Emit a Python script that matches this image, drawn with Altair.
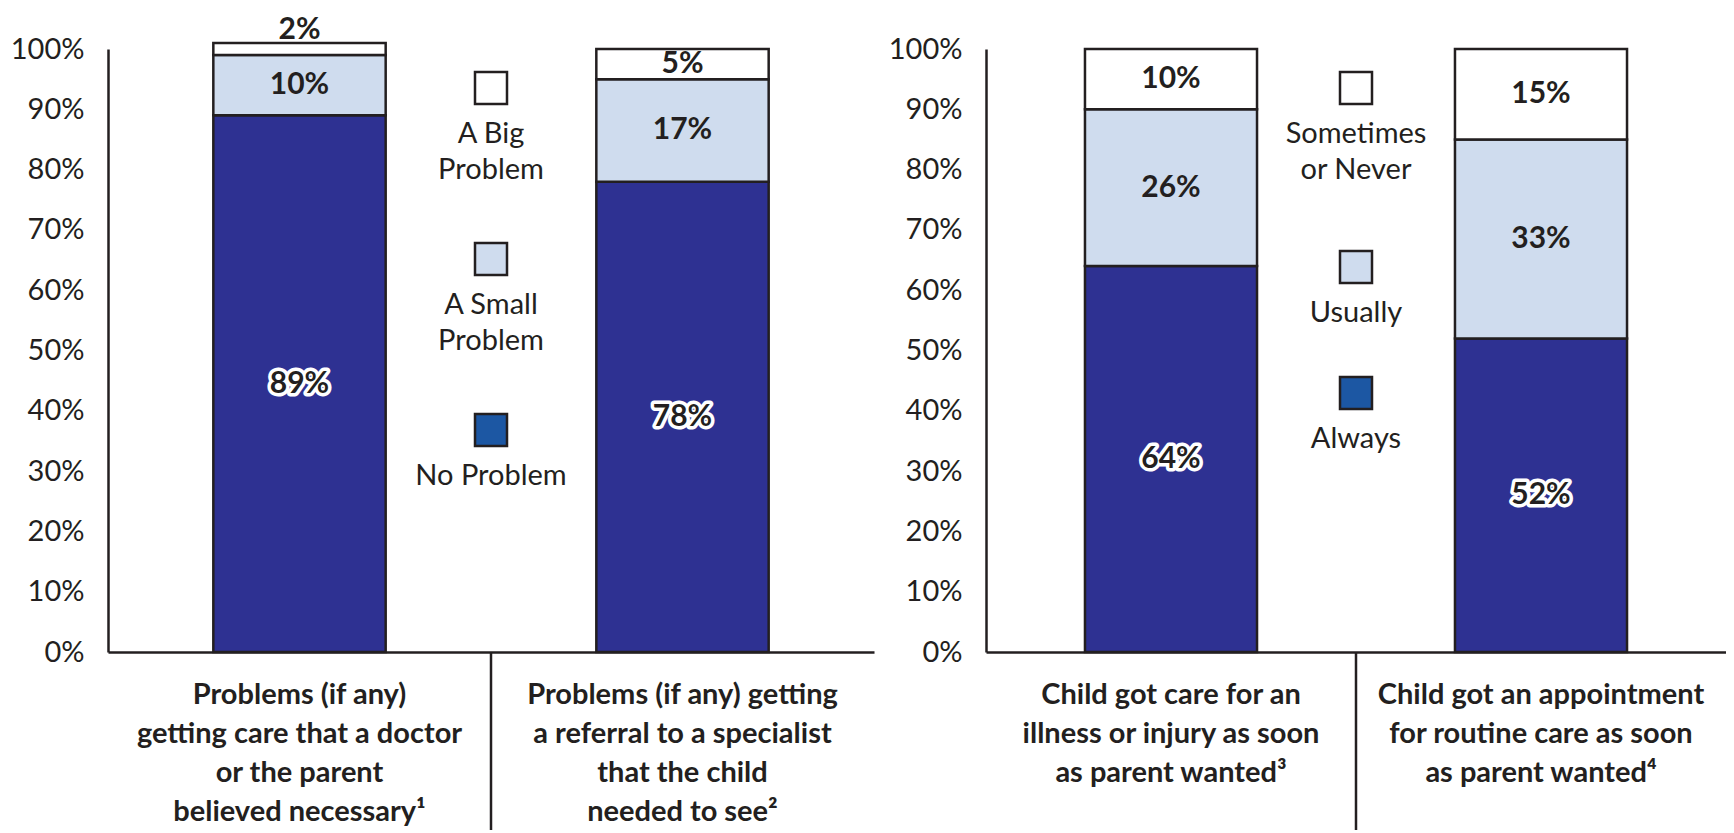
import altair as alt
import pandas as pd

# ---------------- data ----------------
LEFT_CATEGORIES = [
    ["Problems (if any)", "getting care that a doctor", "or the parent", "believed necessary¹"],
    ["Problems (if any) getting", "a referral to a specialist", "that the child", "needed to see²"],
]
LEFT_SERIES = ["No Problem", "A Small Problem", "A Big Problem"]
LEFT_NO_PROBLEM = [89, 78]
LEFT_SMALL_PROBLEM = [10, 17]
LEFT_BIG_PROBLEM = [2, 5]
LEFT_LEGEND_LINES = [["A Big", "Problem"], ["A Small", "Problem"], ["No Problem"]]

RIGHT_CATEGORIES = [
    ["Child got care for an", "illness or injury as soon", "as parent wanted³"],
    ["Child got an appointment", "for routine care as soon", "as parent wanted⁴"],
]
RIGHT_SERIES = ["Always", "Usually", "Sometimes or Never"]
RIGHT_ALWAYS = [64, 52]
RIGHT_USUALLY = [26, 33]
RIGHT_SOMETIMES = [10, 15]
RIGHT_LEGEND_LINES = [["Sometimes", "or Never"], ["Usually"], ["Always"]]

Y_TICKS = [0, 10, 20, 30, 40, 50, 60, 70, 80, 90, 100]

# ---------------- style ----------------
FONT = "Lato"
DARK = "#231f20"
NAVY = "#2e3192"
SPECKLE = "#cfdcee"
LEGEND_BLUE = "#1c57a3"
WHITE = "#ffffff"
PLOT_H = 603


def build_table(cats, series, cols):
    rows = []
    for i, lines in enumerate(cats):
        cat = "|".join(lines)
        base = 0
        for k, (s, col) in enumerate(zip(series, cols)):
            v = col[i]
            rows.append(dict(cat=cat, series=s, order=k, value=v,
                             y0=base, y1=base + v, mid=base + v / 2,
                             label=f"{v}%"))
            base += v
    return pd.DataFrame(rows)


def panel(cats, series, cols, fills, legend_lines, legend_fills, legend_y, width, band):
    df = build_table(cats, series, cols)
    order = ["|".join(l) for l in cats]
    sep_df = pd.DataFrame({"cat": [order[1]]})

    x_axis = alt.Axis(title=None, labelExpr="split(datum.label, '|')", labelAngle=0,
                      labelFontWeight="bold", labelFontSize=29, labelLineHeight=39,
                      labelPadding=28, labelLimit=0, ticks=False, labelBaseline="top",
                      domainColor=DARK, domainWidth=2.5, labelColor=DARK, labelFont=FONT)
    y_axis = alt.Axis(title=None, values=Y_TICKS, labelExpr="datum.value + '%'",
                      grid=False, ticks=False, labelFontSize=29, labelPadding=24,
                      domainColor=DARK, domainWidth=2.5, labelColor=DARK, labelFont=FONT)
    xs = alt.X("cat:N", sort=order, axis=x_axis,
               scale=alt.Scale(paddingInner=0, paddingOuter=0))
    xb = alt.X("cat:N", sort=order, bandPosition=0)
    ys = alt.Y("y0:Q", axis=y_axis, scale=alt.Scale(domain=[0, 100], nice=False))

    base = alt.Chart(df)
    bars = base.mark_bar(width=alt.RelativeBandSize(band), stroke=DARK, strokeWidth=2.5).encode(
        x=xs, y=ys, y2="y1:Q",
        fill=alt.Fill("series:N", scale=alt.Scale(domain=series, range=fills), legend=None),
    )
    inside = base.transform_filter("datum.value >= 5")
    halo = inside.transform_filter("datum.order == 0").mark_text(
        font=FONT, fontSize=30, fontWeight="bold", fill=WHITE, stroke=WHITE,
        strokeWidth=7, strokeJoin="round").encode(
        x=alt.X("cat:N", sort=order), y=alt.Y("mid:Q"), text="label:N")
    lab = inside.mark_text(font=FONT, fontSize=30, fontWeight="bold", fill=DARK).encode(
        x=alt.X("cat:N", sort=order), y=alt.Y("mid:Q"), text="label:N")
    small = base.transform_filter("datum.value < 5").mark_text(
        font=FONT, fontSize=30, fontWeight="bold", fill=DARK, baseline="bottom", dy=2).encode(
        x=alt.X("cat:N", sort=order), y=alt.Y("y1:Q"), text="label:N")

    sep = alt.Chart(sep_df).mark_rule(stroke=DARK, strokeWidth=2.5).encode(
        x=xb, y=alt.value(PLOT_H), y2=alt.value(PLOT_H + 178))

    layers = [bars, halo, lab, small, sep]
    for lines, f, yy in zip(legend_lines, legend_fills, legend_y):
        layers.append(alt.Chart(sep_df).mark_square(
            size=1024, fill=f, fillOpacity=1, stroke=DARK, strokeWidth=2.5).encode(
            x=xb, y=alt.value(yy)))
        layers.append(alt.Chart(sep_df).mark_text(
            text=lines, font=FONT, fontSize=29, fill=DARK, baseline="top",
            align="center", lineHeight=36).encode(x=xb, y=alt.value(yy + 32)))
    return alt.layer(*layers).properties(width=width, height=PLOT_H)


left = panel(LEFT_CATEGORIES, LEFT_SERIES,
             [LEFT_NO_PROBLEM, LEFT_SMALL_PROBLEM, LEFT_BIG_PROBLEM],
             [NAVY, SPECKLE, WHITE], LEFT_LEGEND_LINES,
             [WHITE, SPECKLE, LEGEND_BLUE], [39, 210, 381], 766, 0.45)
right = panel(RIGHT_CATEGORIES, RIGHT_SERIES,
              [RIGHT_ALWAYS, RIGHT_USUALLY, RIGHT_SOMETIMES],
              [NAVY, SPECKLE, WHITE], RIGHT_LEGEND_LINES,
              [WHITE, SPECKLE, LEGEND_BLUE], [39, 218, 344], 740, 0.465)

chart = alt.hconcat(left, right, spacing=112, bounds="flush").configure_view(
    stroke=None).properties(padding={"left": 2, "top": 6, "right": 0, "bottom": 0})

chart.save("out.html", embed_options={"renderer": "svg", "actions": False})
